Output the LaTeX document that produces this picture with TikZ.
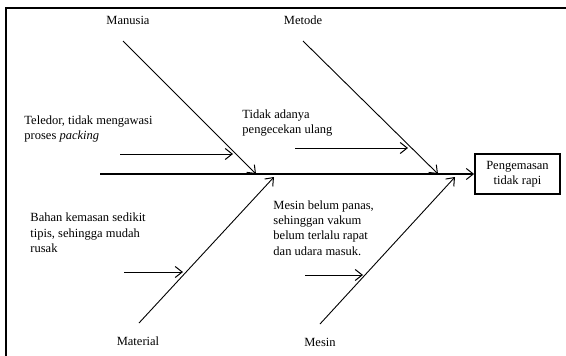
\documentclass[tikz,border=0pt]{standalone}
\usepackage{fontspec}
\setmainfont{Liberation Serif}
\usetikzlibrary{arrows.meta}
\begin{document}
\begin{tikzpicture}[x=1pt,y=-1pt,
 line width=0.9pt,
 tip/.style={-{Straight Barb[length=7pt,width=11pt,line width=1pt]}},
 txt/.style={inner sep=0pt,align=left,anchor=west,font=\fontsize{12.5}{15.5}\selectfont},
 lbl/.style={inner sep=0pt,font=\fontsize{12.5}{15.5}\selectfont}]
 \useasboundingbox (0,0) rectangle (566,356);
 \draw[line width=2pt](5.5,356)--(5.5,7.5)--(566,7.5);
 \node[draw,line width=1.8pt,minimum width=85pt,minimum height=40pt,align=center,lbl] (akibat) at (517.5,174) {Pengemasan\\tidak rapi};
 \coordinate (ekor) at (100,174);
 \draw[tip,line width=1.3pt](ekor)--(akibat.west);
 \coordinate (manusiaA) at (123,41);
 \coordinate (manusiaB) at (256,174);
 \coordinate (metodeA) at (303,41);
 \coordinate (metodeB) at (438,174);
 \coordinate (materialA) at (139,323);
 \coordinate (materialB) at (274,177);
 \coordinate (mesinA) at (320,324);
 \coordinate (mesinB) at (455,177);
 \draw[tip](manusiaA)--(manusiaB);
 \draw[tip](metodeA)--(metodeB);
 \draw[tip](materialA)--(materialB);
 \draw[tip](mesinA)--(mesinB);
 \node[lbl] (manusia) at (128,20) {Manusia};
 \node[lbl] (metode) at (303,20) {Metode};
 \node[lbl] (material) at (138,341) {Material};
 \node[lbl] (mesin) at (320,342) {Mesin};
 \node[txt] (teledor) at (24,129) {Teledor, tidak mengawasi\\proses \textit{packing}};
 \node[txt] (cek) at (242,123) {Tidak adanya\\pengecekan ulang};
 \node[txt] (bahan) at (30,233) {Bahan kemasan sedikit\\tipis, sehingga mudah\\rusak};
 \node[txt] (panas) at (273,228) {Mesin belum panas,\\sehinggan vakum\\belum terlalu rapat\\dan udara masuk.};
 \coordinate (teledorA) at (120,154);
 \coordinate (teledorB) at (233,154);
 \coordinate (cekA) at (295,148);
 \coordinate (cekB) at (408,148);
 \coordinate (bahanA) at (124,272);
 \coordinate (bahanB) at (183,272);
 \coordinate (panasA) at (305,275);
 \coordinate (panasB) at (363,275);
 \draw[tip](teledorA)--(teledorB);
 \draw[tip](cekA)--(cekB);
 \draw[tip](bahanA)--(bahanB);
 \draw[tip](panasA)--(panasB);
\end{tikzpicture}
\end{document}
